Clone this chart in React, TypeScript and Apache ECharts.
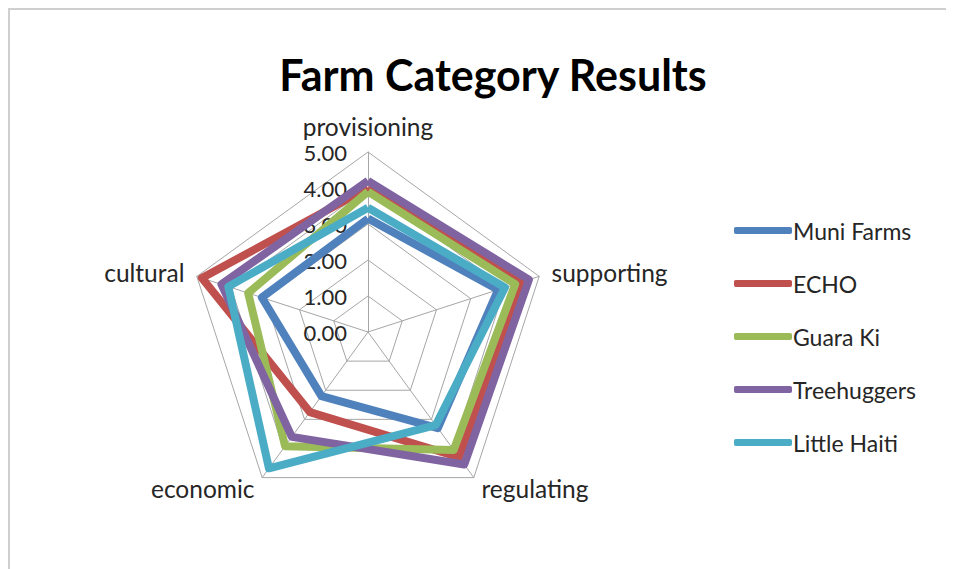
import React, { useEffect, useRef } from "react";
import * as echarts from "echarts";

const categories = ["provisioning", "supporting", "regulating", "economic", "cultural"];
const seriesNames = ["Muni Farms", "ECHO", "Guara Ki", "Treehuggers", "Little Haiti"];
const muniFarms = [3.15, 3.8, 3.3, 2.2, 3.1];
const echo = [4.0, 4.5, 4.3, 2.75, 4.85];
const guaraKi = [3.9, 4.3, 4.05, 3.92, 3.5];
const treehuggers = [4.2, 4.7, 4.55, 3.6, 4.28];
const littleHaiti = [3.45, 4.0, 3.2, 4.68, 4.08];
const seriesValues = [muniFarms, echo, guaraKi, treehuggers, littleHaiti];
const colors = ["#4F81BD", "#C0504D", "#9BBB59", "#8064A2", "#4BACC6"];
const axisMax = 5;

// ECharts radar runs counter-clockwise; reorder so the axes run clockwise as in the reference
const order = [0, 4, 3, 2, 1];

const FONT = "Lato, 'Open Sans', sans-serif";

export default function App() {
  const ref = useRef<HTMLDivElement>(null);
  useEffect(() => {
    if (!ref.current) return;
    const chart = echarts.init(ref.current, undefined, { renderer: "svg" });
    chart.setOption({
      animation: false,
      backgroundColor: "#ffffff",
      title: {
        text: "Farm Category Results",
        left: 478,
        top: 38,
        textAlign: "center",
        textStyle: { fontFamily: FONT, fontSize: 43, fontWeight: "bold", color: "#000000" },
      },
      legend: {
        orient: "vertical",
        left: 719,
        top: 204,
        itemWidth: 58,
        itemHeight: 7,
        itemGap: 30,
        icon: "roundRect",
        textStyle: { fontFamily: FONT, fontSize: 23, color: "#262626", padding: [0, 0, 0, -4] },
        data: seriesNames,
      },
      radar: {
        center: [358, 322],
        radius: 180,
        startAngle: 90,
        shape: "polygon",
        splitNumber: 5,
        nameGap: 13,
        axisName: { fontFamily: FONT, fontSize: 24.5, color: "#262626" },
        axisLine: { lineStyle: { color: "#a6a6a6", width: 1 } },
        splitLine: { lineStyle: { color: "#a6a6a6", width: 1 } },
        splitArea: { show: false },
        axisLabel: { show: false },
        indicator: order.map((k, i) =>
          i === 0
            ? {
                name: categories[k],
                min: 0,
                max: axisMax,
                axisLabel: {
                  show: true,
                  fontFamily: FONT,
                  fontSize: 22,
                  color: "#262626",
                  margin: 21,
                  formatter: (v: number) => v.toFixed(2),
                },
              }
            : { name: categories[k], min: 0, max: axisMax }
        ),
      },
      series: [
        {
          type: "radar",
          symbol: "none",
          data: seriesNames.map((n, i) => ({
            name: n,
            value: order.map((k) => seriesValues[i][k]),
            lineStyle: { color: colors[i], width: 8 },
            itemStyle: { color: colors[i] },
          })),
        },
      ],
    });
    return () => chart.dispose();
  }, []);
  return (
    <div
      style={{
        width: 946,
        height: 561,
        borderTop: "2px solid #cfcfcf",
        borderLeft: "2px solid #cfcfcf",
        overflow: "hidden",
        boxSizing: "border-box",
      }}
    >
      <div ref={ref} style={{ width: 944, height: 559 }} />
    </div>
  );
}
